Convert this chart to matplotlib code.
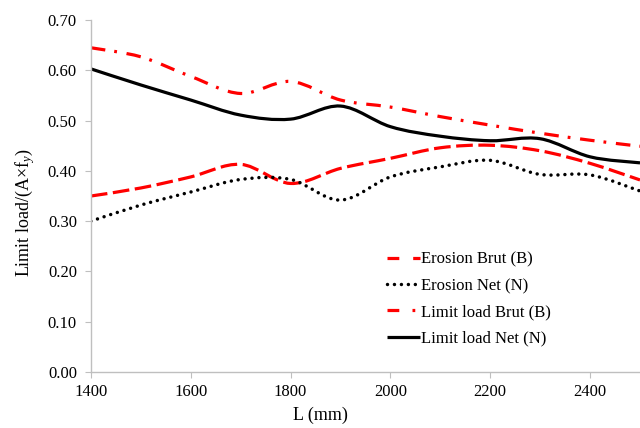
import matplotlib
matplotlib.use("Agg")
import matplotlib.pyplot as plt
from matplotlib.path import Path
from matplotlib.patches import PathPatch
from matplotlib.lines import Line2D
import numpy as np

plt.rcParams["font.family"] = ["Liberation Serif", "DejaVu Serif"]
plt.rcParams["mathtext.fontset"] = "custom"
plt.rcParams["mathtext.rm"] = "Liberation Serif"
plt.rcParams["mathtext.it"] = "Liberation Serif:italic"
plt.rcParams["lines.scale_dashes"] = False

# Data
lengths = [1400, 1500, 1600, 1700, 1800, 1900, 2000, 2100, 2200, 2300, 2400, 2500]
erosion_brut = [0.350, 0.366, 0.388, 0.413, 0.375, 0.405, 0.425, 0.446, 0.451, 0.440, 0.415, 0.382]
erosion_net = [0.300, 0.332, 0.358, 0.383, 0.383, 0.342, 0.388, 0.408, 0.421, 0.393, 0.392, 0.360]
limit_brut = [0.645, 0.627, 0.588, 0.554, 0.578, 0.541, 0.527, 0.508, 0.491, 0.475, 0.461, 0.449]
limit_net = [0.603, 0.571, 0.541, 0.511, 0.503, 0.529, 0.488, 0.469, 0.460, 0.464, 0.428, 0.416]

x_ticks = [1400, 1600, 1800, 2000, 2200, 2400]
y_ticks = [0.0, 0.1, 0.2, 0.3, 0.4, 0.5, 0.6, 0.7]


def smooth_path(xs, ys):
    """Excel-like smoothed line as cubic Bezier segments."""
    pts = np.column_stack([xs, ys]).astype(float)
    n = len(pts)
    verts = [pts[0]]
    codes = [Path.MOVETO]
    for i in range(n - 1):
        p0 = pts[max(i - 1, 0)]
        p1 = pts[i]
        p2 = pts[i + 1]
        p3 = pts[min(i + 2, n - 1)]
        c1 = p1 + (p2 - p0) / 6.0
        c2 = p2 - (p3 - p1) / 6.0
        verts += [c1, c2, p2]
        codes += [Path.CURVE4] * 3
    return Path(verts, codes)


# label, values, colour, width, line style, legend style, cap
series = [
    ("Erosion Brut (B)", erosion_brut, "#ff0000", 2.3, (0, (12, 4)), (0, (8.5, 10)), "butt"),
    ("Erosion Net (N)", erosion_net, "black", 2.5, (0, (0.01, 5)), (0, (0.01, 5)), "round"),
    ("Limit load Brut (B)", limit_brut, "#ff0000", 2.3, (0, (10.5, 6.5, 2, 7)),
     (0, (8.5, 9.5, 2, 10)), "butt"),
    ("Limit load Net (N)", limit_net, "black", 2.3, "-", "-", "butt"),
]

fig = plt.figure(figsize=(6.4, 4.28), dpi=100)
ax = fig.add_axes([0.142, 0.131, 0.858, 0.822])

handles = []
for label, vals, color, lw, ls, leg_ls, cap in series:
    patch = PathPatch(smooth_path(lengths, vals), fill=False, edgecolor=color,
                      linewidth=lw, linestyle=ls, capstyle=cap, joinstyle="round")
    ax.add_patch(patch)
    handles.append(Line2D([], [], color=color, linewidth=lw, linestyle=leg_ls,
                          dash_capstyle=cap, solid_capstyle="butt", label=label))

ax.set_xlim(1400, 2500)
ax.set_ylim(0, 0.70)
ax.set_xticks(x_ticks)
ax.set_yticks(y_ticks)
ax.set_yticklabels([f"{v:.2f}" for v in y_ticks])

for side in ["top", "right"]:
    ax.spines[side].set_visible(False)
for side in ["left", "bottom"]:
    ax.spines[side].set_color("#bfbfbf")
    ax.spines[side].set_linewidth(1.0)
ax.tick_params(axis="both", direction="out", length=4, color="#bfbfbf",
               labelsize=12, labelcolor="black")
ax.tick_params(axis="y", pad=6)
ax.tick_params(axis="x", pad=5)

ax.set_xlabel("L (mm)", fontsize=13)
ax.xaxis.set_label_coords(0.418, -0.098)
ax.set_ylabel("Limit load/(A×f$_y$)", fontsize=13)
ax.yaxis.set_label_coords(-0.098, 0.452)

ax.legend(handles=handles, loc="upper left", bbox_to_anchor=(0.527, 0.361),
          frameon=False, fontsize=12, handlelength=2.0, handletextpad=0.05,
          labelspacing=0.62, borderaxespad=0)

fig.savefig("out.png", dpi=100)
